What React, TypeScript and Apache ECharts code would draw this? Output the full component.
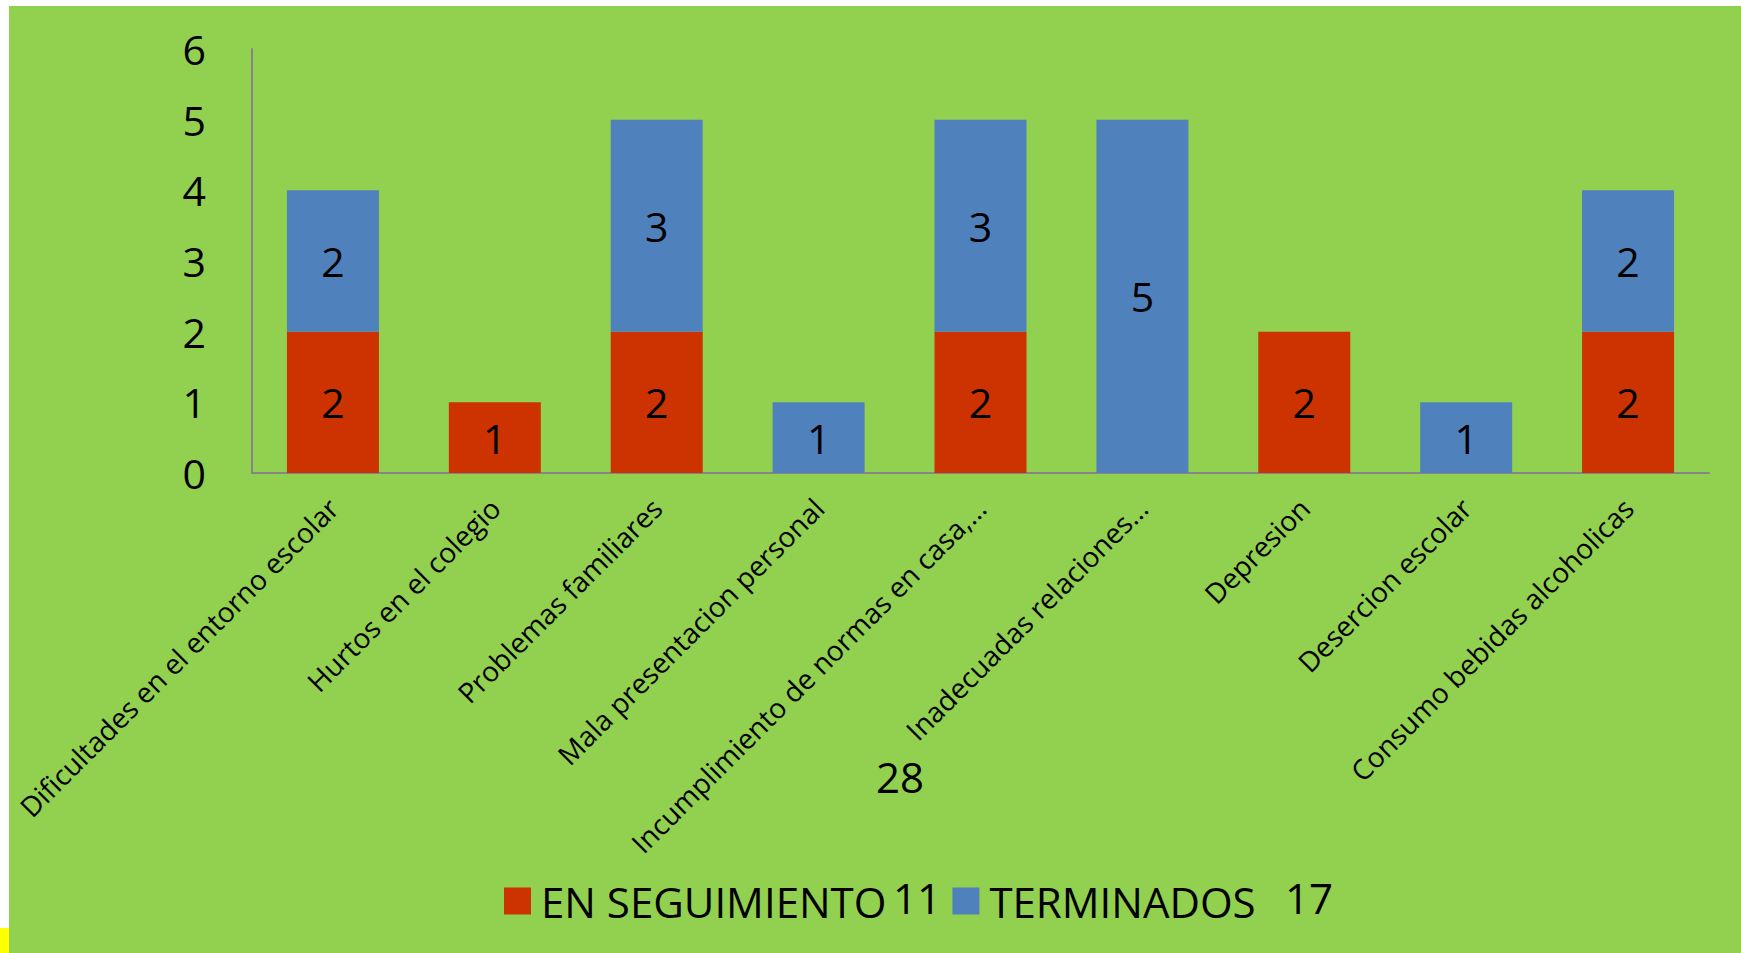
import React, { useEffect, useRef } from "react";
import * as echarts from "echarts";

const categories = [
  "Dificultades en el entorno escolar",
  "Hurtos en el colegio",
  "Problemas familiares",
  "Mala presentacion personal",
  "Incumplimiento de normas en casa,…",
  "Inadecuadas relaciones…",
  "Depresion",
  "Desercion escolar",
  "Consumo bebidas alcoholicas",
];
const enSeguimiento = [2, 1, 2, 0, 2, 0, 2, 0, 2];
const terminados = [2, 0, 3, 1, 3, 5, 0, 1, 2];
const seriesNames = ["EN SEGUIMIENTO", "TERMINADOS"];
const totalSeguimiento = "11";
const totalTerminados = "17";
const grandTotal = "28";
const yTicks = [0, 6, 1];

const FONT = "'Open Sans', sans-serif";

export default function App() {
  const ref = useRef<HTMLDivElement>(null);
  useEffect(() => {
    document.body.style.margin = "0";
    const chart = echarts.init(ref.current!, null, { renderer: "svg" });
    const label = {
      show: true,
      position: "inside",
      color: "#000",
      fontFamily: FONT,
      fontSize: 41,
      formatter: (p: any) => (p.value ? String(p.value) : ""),
    };
    chart.setOption({
      animation: false,
      backgroundColor: "#ffffff",
      textStyle: { fontFamily: FONT },
      graphic: [
        { type: "rect", z: -10, shape: { x: 9, y: 6, width: 1732, height: 947 }, style: { fill: "#92D050" } },
        { type: "rect", z: -10, shape: { x: 0, y: 928, width: 9, height: 25 }, style: { fill: "#FFFF00" } },
        { type: "text", z: 10, x: 900, y: 776, style: { text: grandTotal, font: `42px ${FONT}`, fill: "#000", align: "center", verticalAlign: "middle" } },
        { type: "text", z: 10, x: 917, y: 897, style: { text: totalSeguimiento, font: `42px ${FONT}`, fill: "#000", align: "center", verticalAlign: "middle" } },
        { type: "text", z: 10, x: 1309, y: 897, style: { text: totalTerminados, font: `42px ${FONT}`, fill: "#000", align: "center", verticalAlign: "middle" } },
      ],
      legend: {
        data: seriesNames,
        left: 499,
        top: 875,
        icon: "rect",
        itemWidth: 27,
        itemHeight: 27,
        itemGap: 66,
        textStyle: { fontFamily: FONT, fontSize: 42, color: "#000", padding: [0, 0, 0, 5] },
      },
      grid: { left: 252, right: 32, top: 49, bottom: 480, containLabel: false },
      xAxis: {
        type: "category",
        data: categories,
        axisLine: { show: true, lineStyle: { color: "#868686", width: 2 } },
        axisTick: { show: false },
        axisLabel: {
          interval: 0,
          rotate: 45,
          margin: 30,
          fontFamily: FONT,
          fontSize: 28,
          color: "#000",
        },
      },
      yAxis: {
        type: "value",
        min: yTicks[0],
        max: yTicks[1],
        interval: yTicks[2],
        axisLine: { show: true, lineStyle: { color: "#868686", width: 2 } },
        axisTick: { show: false },
        splitLine: { show: false },
        axisLabel: { margin: 46, fontFamily: FONT, fontSize: 41, color: "#000" },
      },
      series: [
        {
          name: seriesNames[0],
          type: "bar",
          stack: "total",
          barWidth: 92,
          data: enSeguimiento,
          itemStyle: { color: "#CC3300" },
          label,
        },
        {
          name: seriesNames[1],
          type: "bar",
          stack: "total",
          barWidth: 92,
          data: terminados,
          itemStyle: { color: "#4F81BD" },
          label,
        },
      ],
    });
    return () => chart.dispose();
  }, []);
  return (
    <div
      ref={ref}
      style={{ position: "absolute", left: 0, top: 0, width: 1741, height: 953 }}
    />
  );
}
